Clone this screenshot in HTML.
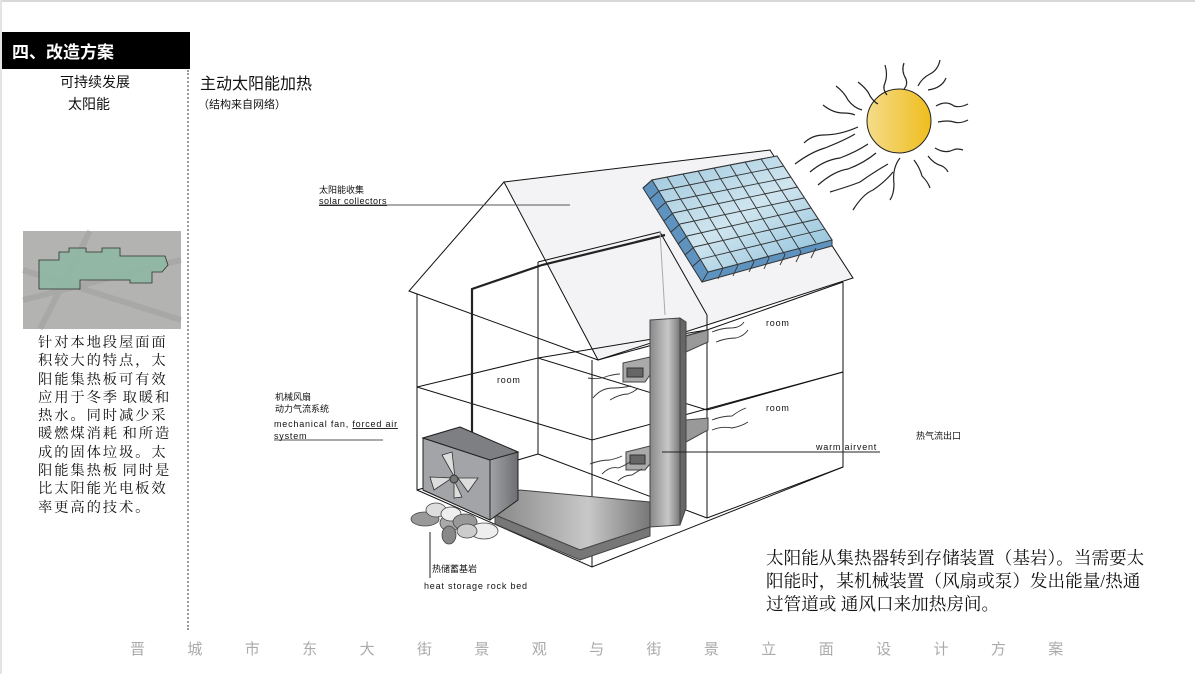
<!DOCTYPE html>
<html><head><meta charset="utf-8"><style>
html,body{margin:0;padding:0;background:#fff;}
body{width:1195px;height:674px;position:relative;overflow:hidden;font-family:"Liberation Sans","Noto Sans CJK SC",sans-serif;}
.a{position:absolute;white-space:nowrap;}
.f span{display:inline-block;width:57.4px}
</style></head><body>
<div class="a" style="left:0;top:0;width:1195px;height:2px;background:#d8d8d8"></div>
<div class="a" style="left:0;top:0;width:2px;height:674px;background:#e4e4e4"></div>
<div class="a" style="left:2px;top:32px;width:188px;height:37px;background:#000"></div>
<div class="a" style="left:12px;top:38px;color:#fff;font-size:17px;font-weight:bold;">四、改造方案</div>
<div class="a" style="left:60px;top:72px;font-size:14px;color:#111">可持续发展</div>
<div class="a" style="left:68px;top:94px;font-size:14px;color:#111">太阳能</div>
<div class="a" style="left:187px;top:70px;width:0;height:560px;border-left:2px dotted #999"></div>
<div class="a" style="left:200px;top:70px;font-size:16px;color:#111">主动太阳能加热</div>
<div class="a" style="left:198px;top:96px;font-size:11px;color:#111">（结构来自网络）</div>
<div class="a" style="left:38px;top:334px;font-family:'Liberation Serif','Noto Serif CJK SC',serif;font-size:14.3px;line-height:18.3px;letter-spacing:1.9px;color:#111;">针对本地段屋面面<br>积较大的特点，太<br>阳能集热板可有效<br>应用于冬季<span style="letter-spacing:0"> </span>取暖和<br>热水。同时减少采<br>暖燃煤消耗<span style="letter-spacing:0"> </span>和所造<br>成的固体垃圾。太<br>阳能集热板<span style="letter-spacing:0"> </span>同时是<br>比太阳能光电板效<br>率更高的技术。</div>
<div class="a" style="left:766px;top:547px;font-family:'Liberation Serif','Noto Serif CJK SC',serif;font-size:17.6px;line-height:23px;color:#111;">太阳能从集热器转到存储装置（基岩）。当需要太<br>阳能时，某机械装置（风扇或泵）发出能量/热通<br>过管道或 通风口来加热房间。</div>
<div class="a f" style="left:130px;top:638px;font-size:15px;color:#aaa;"><span>晋</span><span>城</span><span>市</span><span>东</span><span>大</span><span>街</span><span>景</span><span>观</span><span>与</span><span>街</span><span>景</span><span>立</span><span>面</span><span>设</span><span>计</span><span>方</span><span>案</span></div>

<svg class="a" style="left:0;top:0" width="1195" height="674" viewBox="0 0 1195 674">
<defs>
<linearGradient id="sun" x1="0" x2="1"><stop offset="0" stop-color="#f5dc8a"/><stop offset="1" stop-color="#efbd1d"/></linearGradient>
<linearGradient id="pan" x1="0" x2="1" y1="0" y2="1"><stop offset="0" stop-color="#9cc6dc"/><stop offset="0.5" stop-color="#cfe5ef"/><stop offset="1" stop-color="#86bcd8"/></linearGradient>
<linearGradient id="box" x1="0" x2="1"><stop offset="0" stop-color="#8d8f93"/><stop offset="0.5" stop-color="#c7c8ca"/><stop offset="1" stop-color="#6c6e72"/></linearGradient>
<linearGradient id="duct" x1="0" x2="1"><stop offset="0" stop-color="#888"/><stop offset="0.6" stop-color="#c8c8c8"/><stop offset="1" stop-color="#777"/></linearGradient>
</defs>
<rect x="23" y="231" width="158" height="98" fill="#b3b3b1"/>
<path d="M23 300 L181 260 M40 329 L90 231 M23 270 L181 320" stroke="#999" stroke-width="6" opacity=".4"/>
<polygon points="39,260 59,260 59,252 69,252 69,248 86,248 86,252 102,252 102,248 120,248 120,256 165,256 168,265 162,272 152,272 152,283 130,283 130,280 80,280 80,289 39,289" fill="#8fb8a3" stroke="#222" stroke-width=".8" opacity=".9"/>
<circle cx="899" cy="121" r="32" fill="url(#sun)" stroke="#222" stroke-width="1"/>
<g fill="none" stroke="#222" stroke-width="1.2">
<path d="M885 65 q3 10 0 18 q-3 6 2 12"/><path d="M904 63 q-3 8 2 16 q2 6 -2 10"/>
<path d="M940 60 q-2 10 -10 14 q-8 4 -12 12"/><path d="M946 78 q-4 10 -18 12"/>
<path d="M858 82 q10 8 12 14 q4 6 8 8"/><path d="M836 86 q8 6 12 14 q6 8 14 10"/>
<path d="M823 105 q10 8 20 8 q8 0 12 2"/><path d="M804 143 q8 -8 20 -8 q16 0 34 -8"/>
<path d="M795 164 q16 -12 30 -16 q20 -8 30 -14"/><path d="M810 172 q14 -12 30 -14 q16 -6 28 -14"/>
<path d="M818 185 q16 -14 30 -16 q16 -6 28 -16"/><path d="M830 192 q20 -6 30 -10 q14 -10 28 -18"/>
<path d="M853 210 q10 -16 20 -20 q12 -8 20 -18"/><path d="M900 158 q-8 10 -6 26 q0 10 -4 16"/>
<path d="M914 160 q6 8 8 16 q6 6 8 12"/><path d="M928 156 q6 8 14 10 q4 2 6 6"/>
<path d="M935 148 q10 6 18 2 q4 -2 10 0"/><path d="M938 122 q10 -2 16 0 q6 2 14 -2"/><path d="M936 106 q10 -6 18 0 q6 2 14 -2"/>
</g>
<g fill="none" stroke="#111" stroke-width="1">
<polygon points="504,182 770,150 853,278 598,360" fill="#f3f3f5" stroke="#111"/>
<path d="M504,182 L409,291 L417,294 M409,291 L598,360"/>
<path d="M417,294 L417,490 L592,567 L843,467 L843,282"/>
<path d="M592,360 L592,567"/>
<path d="M538,262 L538,454 L707,518 M417,490 L538,454 M707,518 L843,467"/>
<path d="M707,315 L707,518"/>
<path d="M538,262 L660,232 L707,315"/>
<path d="M417,387 L592,440 L843,372 M417,387 L538,358 L707,410 M538,358 L707,330"/>
<path d="M707,410 L843,372" />
<path d="M598,360 L707,330 L843,282"/>
</g>
<path d="M472,454 L472,289 L542,265 L665,235" fill="none" stroke="#222" stroke-width="2.2"/>
<path d="M660,232 L665,315" stroke="#aaa" stroke-width="1"/>
<polygon points="643,188 652,180 777,156 832,240 832,246 702,282" fill="#5f93bf" stroke="#333"/>
<polygon points="652,180 777,156 832,240 708,272" fill="url(#pan)" stroke="#333"/>
<g stroke="#333" stroke-width="0.9" fill="none">
<path d="M667,177 L723,268 M683,174 L738,265 M698,171 L754,262 M714,168 L769,258 M730,165 L785,255 M745,162 L801,252 M761,159 L816,243"/>
<path d="M659,191 L784,166 M666,202 L791,177 M673,213 L798,187 M680,224 L804,198 M687,236 L811,208 M694,247 L818,219 M701,259 L825,229"/>
<path d="M652,180 L643,188 M708,272 L702,282 M723,268 L718,279 M738,265 L733,276 M754,262 L749,272 M769,258 L764,269 M785,255 L780,265 M801,252 L796,262 M816,248 L811,258 M659,191 L650,199 M666,202 L657,210 M673,213 L664,221 M680,224 L671,232 M687,236 L678,244 M694,247 L685,255 M701,259 L692,267"/>
</g>
<polygon points="650,320 680,318 680,525 650,527" fill="url(#duct)" stroke="#444"/>
<polygon points="680,318 686,322 686,508 680,525" fill="#666" stroke="#444"/>
<polygon points="495,498 520,490 650,502 650,527 580,550 495,515" fill="url(#duct)" stroke="#444"/>
<polygon points="495,515 580,550 650,527 650,536 580,560 495,524" fill="#777" stroke="#444"/>
<polygon points="686,336 708,330 708,342 686,352" fill="#999" stroke="#444"/>
<polygon points="686,420 708,418 708,430 686,442" fill="#999" stroke="#444"/>
<polygon points="623,363 650,357 650,375 645,382 623,382" fill="#aaa" stroke="#444"/>
<rect x="627" y="368" width="16" height="9" fill="#666" stroke="#333"/>
<polygon points="626,452 650,446 650,464 645,470 626,470" fill="#aaa" stroke="#444"/>
<rect x="630" y="455" width="15" height="9" fill="#666" stroke="#333"/>
<polygon points="423,438 460,427 518,452 518,500 490,520 423,490" fill="url(#box)" stroke="#222"/>
<polygon points="423,438 490,460 490,520 423,490" fill="#a3a4a7" stroke="#222"/>
<polygon points="423,438 460,427 518,452 490,460" fill="#7d7f83" stroke="#222"/>
<g fill="#ddd" stroke="#333" stroke-width=".8"><polygon points="442,455 452,452 455,478"/><polygon points="430,477 452,478 434,490"/><polygon points="458,478 468,492 478,478"/><polygon points="454,480 462,497 454,498"/></g>
<circle cx="454" cy="479" r="4" fill="#777" stroke="#333"/>
<g stroke="#444" stroke-width=".8">
<ellipse cx="425" cy="519" rx="14" ry="7" fill="#999"/><ellipse cx="436" cy="510" rx="10" ry="7" fill="#ddd"/>
<ellipse cx="450" cy="523" rx="10" ry="8" fill="#aaa"/><ellipse cx="451" cy="514" rx="10" ry="7" fill="#eee"/>
<ellipse cx="465" cy="522" rx="12" ry="8" fill="#999"/><ellipse cx="484" cy="531" rx="14" ry="8" fill="#eee"/>
<ellipse cx="449" cy="535" rx="7" ry="9" fill="#888"/><ellipse cx="467" cy="531" rx="10" ry="7" fill="#ccc"/>
</g>
<g fill="none" stroke="#333" stroke-width=".9">
<path d="M588,378 q10 2 20 -2 q8 -2 12 -2"/><path d="M593,398 q8 -10 20 -10 q8 0 18 -2"/><path d="M610,400 q10 -6 18 -6 q6 -2 10 -6"/>
<path d="M590,464 q10 -4 20 -4 q8 -2 12 -4"/><path d="M602,474 q8 -8 16 -6 q6 -2 12 -6"/><path d="M618,481 q6 -6 14 -6 q6 -4 10 -6"/>
<path d="M712,332 q10 -4 18 -4 q10 0 14 -6"/><path d="M716,342 q10 -4 20 -4 q8 -2 12 -8"/>
<path d="M712,420 q10 -4 20 -4 q8 -6 14 -8"/><path d="M712,430 q10 -4 20 -2 q10 -2 16 -6"/>
</g>
<line x1="319" y1="205" x2="570" y2="205" stroke="#555" stroke-width="1"/>
<line x1="274" y1="440" x2="383" y2="440" stroke="#555" stroke-width="1"/>
<line x1="430" y1="532" x2="430" y2="578" stroke="#222" stroke-width="1"/>
<line x1="662" y1="452" x2="880" y2="452" stroke="#222" stroke-width="1"/>
<g font-family="Liberation Sans, Noto Sans CJK SC, sans-serif" fill="#111">
<text x="319" y="193" font-size="9">太阳能收集</text>
<text x="319" y="204" font-size="9" letter-spacing=".5" text-decoration="underline">solar collectors</text>
<text x="275" y="400" font-size="9">机械风扇</text>
<text x="275" y="412" font-size="9">动力气流系统</text>
<text x="274" y="427" font-size="9" letter-spacing=".8">mechanical fan, <tspan text-decoration="underline">forced air</tspan></text>
<text x="274" y="439" font-size="9" letter-spacing=".8">system</text>
<text x="432" y="572" font-size="9">热储蓄基岩</text>
<text x="424" y="589" font-size="9" letter-spacing=".8">heat storage rock  bed</text>
<text x="497" y="383" font-size="9" letter-spacing=".8">room</text>
<text x="766" y="326" font-size="9" letter-spacing=".8">room</text>
<text x="766" y="411" font-size="9" letter-spacing=".8">room</text>
<text x="816" y="450" font-size="9" letter-spacing=".8">warm airvent</text>
<text x="916" y="439" font-size="9">热气流出口</text>
</g>
</svg>
</body></html>
